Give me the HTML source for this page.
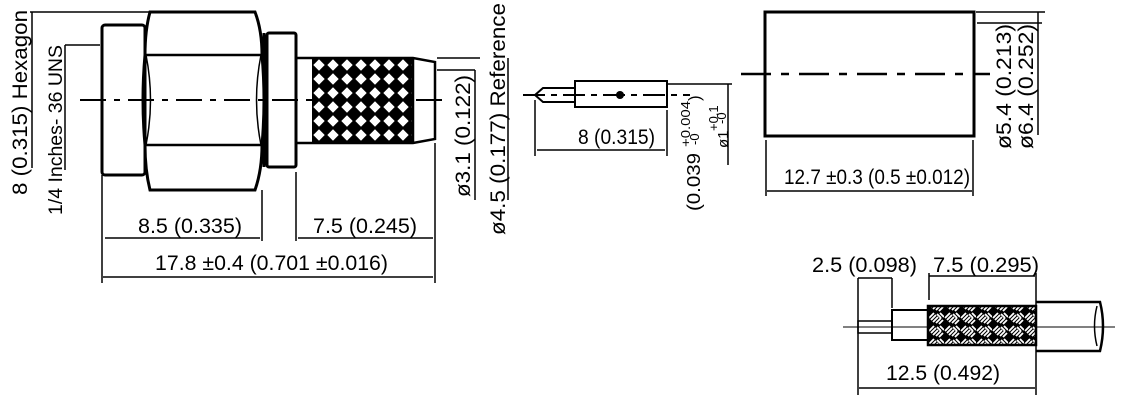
<!DOCTYPE html>
<html><head><meta charset="utf-8"><style>
html,body{margin:0;padding:0;background:#fff;width:1126px;height:401px;overflow:hidden}
svg{display:block}
text{font-family:"Liberation Sans",sans-serif;fill:#000}
</style></head><body>
<svg width="1126" height="401" viewBox="0 0 1126 401" xmlns="http://www.w3.org/2000/svg">
<defs>
<pattern id="knurl" x="312" y="58" width="14" height="14" patternUnits="userSpaceOnUse">
<rect width="14" height="14" fill="#000"/>
<path d="M7 1.3 L12.7 7 L7 12.7 L1.3 7 Z" fill="#fff"/>
</pattern>
<pattern id="braid" width="16" height="13" patternUnits="userSpaceOnUse">
<rect width="16" height="13" fill="#000"/>
<path d="M1 6 L6 1 M3 8 L8 3 M5 10 L10 5 M9 2 L13 6 M8 11 L13 6 M11 12 L15 8 M12 1 L16 5" stroke="#fff" stroke-width="1.8"/>
</pattern>
</defs>
<g fill="none" stroke="#000">
<!-- LEFT CONNECTOR -->
<path d="M80 100 H445" stroke-width="2" stroke-dasharray="26 8 6 8"/>
<rect x="102" y="25" width="43" height="150" rx="3" stroke-width="3"/>
<path d="M150 12 H255 Q262 30 262 55 Q266 100 262 145 Q262 170 255 190 H150 Q145 170 145 145 Q141 100 145 55 Q145 30 150 12 Z" stroke-width="3"/>
<path d="M146 55 H261 M146 145 H261" stroke-width="2.5"/>
<path d="M146 55 Q155 100 146 145 M261 55 Q252 100 261 145" stroke-width="1.5"/>
<path d="M264 33 V167" stroke-width="3"/>
<rect x="267" y="33" width="29" height="134" rx="2" stroke-width="3"/>
<rect x="312" y="58" width="101" height="85" fill="url(#knurl)" stroke="none"/>
<path d="M296 58 H413 L435 62 V139 L413 143 H296 M413 58 V143" stroke-width="2.5"/>
<!-- left dims -->
<path d="M30 12 H150 M32 12 V168" stroke-width="1.5"/>
<path d="M65 45 H100 M65 45 V170" stroke-width="1.5"/>
<path d="M437 58 H480 M508 58 V200" stroke-width="1.5"/>
<path d="M437 70 H475 M475 70 V200" stroke-width="1.5"/>
<path d="M102 175 V283 M262 190 V241 M296 172 V241 M435 143 V283" stroke-width="1.5"/>
<path d="M105 238 H260 M298 238 H433 M103 277 H433" stroke-width="1.5"/>
<!-- PIN -->
<path d="M523 95 H690" stroke-width="2" stroke-dasharray="22 6 6 6"/>
<path d="M535 95 L543 88 H575 V102 H543 Z" stroke-width="2"/>
<rect x="575" y="81" width="92" height="26" stroke-width="2"/>
<circle cx="620" cy="95" r="4" fill="#000" stroke="none"/>
<path d="M535 100 V156 M667 110 V156 M537 150 H665" stroke-width="1.5"/>
<path d="M668 84 H732 M728 84 V165" stroke-width="1.5"/>
<!-- CYLINDER -->
<rect x="765" y="12" width="209" height="124" stroke-width="3"/>
<path d="M741 74 H990" stroke-width="2.5" stroke-dasharray="30 10 8 10"/>
<path d="M976 12 H1045 M977 23 H1042 M1038 12 V135" stroke-width="1.5"/>
<path d="M766 140 V196 M973 140 V196 M767 191 H972" stroke-width="1.5"/>
<!-- CABLE -->
<path d="M843 327 H1115" stroke-width="1"/>
<path d="M858 278 V395 M892 278 V308 M858 278 H892" stroke-width="1.5"/>
<path d="M929 273 V300 M929 276 H1035 M1036 273 V395 M859 388 H1035" stroke-width="1.5"/>
<rect x="858" y="321" width="34" height="12" stroke-width="1.5"/>
<rect x="892" y="310" width="36" height="30" stroke-width="2"/>
<rect x="928" y="306" width="108" height="39" fill="url(#braid)" stroke-width="2.5"/>
<path d="M1036 302 H1100 Q1106 326 1100 351 H1036" stroke-width="2.5"/>
<path d="M1097 306 Q1092 326 1097 346" stroke-width="1.5"/>
</g>
<!-- TEXT -->
<g font-size="21">
<text transform="translate(27,195) rotate(-90)" textLength="185" lengthAdjust="spacingAndGlyphs">8 (0.315) Hexagon</text>
<text transform="translate(62,215) rotate(-90)" font-size="19" textLength="170" lengthAdjust="spacingAndGlyphs">1/4 Inches- 36 UNS</text>
<text transform="translate(470,197) rotate(-90)" textLength="122" lengthAdjust="spacingAndGlyphs">ø3.1 (0.122)</text>
<text transform="translate(505,235) rotate(-90)" textLength="232" lengthAdjust="spacingAndGlyphs">ø4.5 (0.177) Reference</text>
<text x="138" y="233" textLength="104" lengthAdjust="spacingAndGlyphs">8.5 (0.335)</text>
<text x="313" y="233" textLength="104" lengthAdjust="spacingAndGlyphs">7.5 (0.245)</text>
<text x="155" y="270" textLength="233" lengthAdjust="spacingAndGlyphs">17.8 ±0.4 (0.701 ±0.016)</text>
<text x="578" y="144" textLength="77" lengthAdjust="spacingAndGlyphs">8 (0.315)</text>
<text transform="translate(700,211) rotate(-90)" font-size="18" textLength="58" lengthAdjust="spacingAndGlyphs">(0.039</text>
<text transform="translate(690,147) rotate(-90)" font-size="13" textLength="46" lengthAdjust="spacingAndGlyphs">+0.004</text>
<text transform="translate(699,145) rotate(-90)" font-size="13">-0</text>
<text transform="translate(700,101) rotate(-90)" font-size="17">)</text>
<text transform="translate(718,131) rotate(-90)" font-size="13">+0.1</text>
<text transform="translate(726,124) rotate(-90)" font-size="13">-0</text>
<text transform="translate(728,148) rotate(-90)" font-size="15">ø1</text>
<text transform="translate(1011,149) rotate(-90)" textLength="125" lengthAdjust="spacingAndGlyphs">ø5.4 (0.213)</text>
<text transform="translate(1033,149) rotate(-90)" textLength="125" lengthAdjust="spacingAndGlyphs">ø6.4 (0.252)</text>
<text x="784" y="184" textLength="186" lengthAdjust="spacingAndGlyphs">12.7 ±0.3 (0.5 ±0.012)</text>
<text x="812" y="272" textLength="105" lengthAdjust="spacingAndGlyphs">2.5 (0.098)</text>
<text x="933" y="272" textLength="106" lengthAdjust="spacingAndGlyphs">7.5 (0.295)</text>
<text x="886" y="380" textLength="114" lengthAdjust="spacingAndGlyphs">12.5 (0.492)</text>
</g>
</svg>
</body></html>
